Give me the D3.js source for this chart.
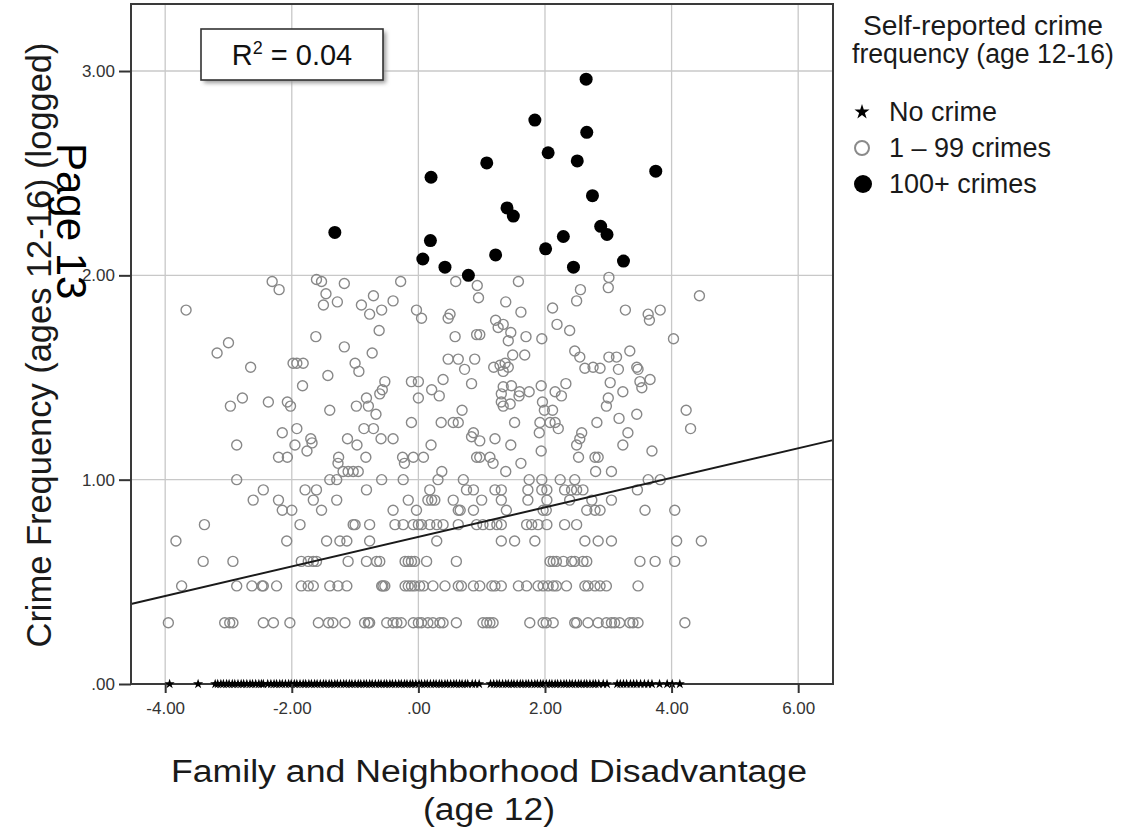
<!DOCTYPE html>
<html><head><meta charset="utf-8">
<script src="https://cdn.jsdelivr.net/npm/d3@7"></script>
<style>
body{margin:0;background:#fff}
svg{display:block}
text{font-family:"Liberation Sans",Arial,Helvetica,sans-serif}
</style>
</head><body>
<svg id="c" width="1128" height="829"></svg>
<script>
// ---------------- data ----------------
const xTicks = [-4, -2, 0, 2, 4, 6];
const yTicks = [0, 1, 2, 3];
const xTitle = ["Family and Neighborhood Disadvantage", "(age 12)"];
const yTitle = "Crime Frequency (ages 12-16) (logged)";
const legendTitle = ["Self-reported crime", "frequency (age 12-16)"];
const legendItems = ["No crime", "1 \u2013 99 crimes", "100+ crimes"];
const r2Text = "0.04";
const fitIntercept = 0.72;
const fitSlope = 0.0723;

// No crime (value 0)
const noCrimeX = [-3.93,-3.48,-3.21,-3.17,-3.12,-3.08,-3.03,-2.99,-2.94,-2.90,-2.85,-2.80,-2.76,-2.71,-2.66,-2.62,-2.57,-2.52,-2.48,-2.45,-2.38,-2.33,-2.28,-2.24,-2.19,-2.15,-2.10,-2.05,-2.01,-1.96,-1.92,-1.87,-1.82,-1.78,-1.73,-1.69,-1.64,-1.60,-1.55,-1.50,-1.46,-1.41,-1.37,-1.32,-1.28,-1.23,-1.18,-1.14,-1.09,-1.05,-1.00,-0.95,-0.91,-0.86,-0.82,-0.77,-0.73,-0.68,-0.63,-0.59,-0.54,-0.50,-0.45,-0.41,-0.36,-0.31,-0.27,-0.22,-0.18,-0.13,-0.09,-0.04,0.01,0.05,0.10,0.14,0.19,0.24,0.28,0.33,0.37,0.42,0.46,0.51,0.56,0.60,0.65,0.69,0.74,0.78,0.85,0.90,0.96,1.14,1.19,1.24,1.28,1.33,1.38,1.42,1.47,1.51,1.56,1.61,1.65,1.70,1.74,1.79,1.84,1.88,1.93,1.97,2.02,2.07,2.11,2.16,2.20,2.25,2.30,2.34,2.39,2.43,2.48,2.53,2.57,2.62,2.66,2.71,2.76,2.80,2.85,2.92,2.98,3.14,3.19,3.24,3.29,3.35,3.40,3.45,3.51,3.57,3.63,3.69,3.81,3.93,4.01,4.13];

// 1 - 99 crimes [x, y]
const someCrime = [
[-3.95,0.30],[-3.06,0.30],[-2.98,0.30],[-2.93,0.30],[-2.45,0.30],[-2.29,0.30],[-2.03,0.30],[-1.58,0.30],[-1.42,0.30],[-1.35,0.30],[-1.16,0.30],[-0.85,0.30],[-0.79,0.30],[-0.77,0.30],[-0.50,0.30],[-0.40,0.30],[-0.34,0.30],[-0.27,0.30],[-0.08,0.30],[0.00,0.30],[0.05,0.30],[0.15,0.30],[0.23,0.30],[0.34,0.30],[0.39,0.30],[0.60,0.30],
[1.02,0.30],[1.08,0.30],[1.13,0.30],[1.18,0.30],[1.76,0.30],[1.97,0.30],[2.02,0.30],[2.13,0.30],[2.47,0.30],[2.50,0.30],[2.68,0.30],[2.84,0.30],[2.97,0.30],[3.05,0.30],[3.10,0.30],[3.18,0.30],[3.34,0.30],[3.39,0.30],[3.47,0.30],[4.21,0.30],
[-3.74,0.48],[-2.87,0.48],[-2.63,0.48],[-2.47,0.48],[-2.45,0.48],[-2.24,0.48],[-1.85,0.48],[-1.74,0.48],[-1.66,0.48],[-1.40,0.48],[-1.27,0.48],[-1.13,0.48],[-0.58,0.48],[-0.56,0.48],[-0.53,0.48],[-0.21,0.48],[-0.16,0.48],[-0.11,0.48],[-0.06,0.48],[0.02,0.48],[0.08,0.48],[0.23,0.48],[0.42,0.48],[0.63,0.48],[0.68,0.48],[0.87,0.48],[0.97,0.48],
[1.16,0.48],[1.21,0.48],[1.31,0.48],[1.58,0.48],[1.71,0.48],[1.89,0.48],[1.97,0.48],[2.05,0.48],[2.13,0.48],[2.18,0.48],[2.34,0.48],[2.63,0.48],[2.68,0.48],[2.79,0.48],[2.87,0.48],[2.97,0.48],[3.47,0.48],
[-3.40,0.60],[-2.93,0.60],[-1.85,0.60],[-1.74,0.60],[-1.66,0.60],[-1.61,0.60],[-1.11,0.60],[-0.82,0.60],[-0.66,0.60],[-0.61,0.60],[-0.21,0.60],[-0.16,0.60],[-0.11,0.60],[-0.06,0.60],[0.13,0.60],[0.60,0.60],
[2.08,0.60],[2.13,0.60],[2.18,0.60],[2.29,0.60],[2.42,0.60],[2.47,0.60],[2.60,0.60],[2.66,0.60],[3.50,0.60],[3.74,0.60],[4.05,0.60],
[-3.83,0.70],[-2.08,0.70],[-1.45,0.70],[-1.24,0.70],[-1.13,0.70],[-0.77,0.70],[0.29,0.70],[1.31,0.70],[1.52,0.70],[1.84,0.70],[2.63,0.70],[2.84,0.70],[3.05,0.70],[4.08,0.70],[4.47,0.70],
[-3.38,0.78],[-1.87,0.78],[-1.03,0.78],[-1.00,0.78],[-0.77,0.78],[-0.37,0.78],[-0.24,0.78],[-0.08,0.78],[0.00,0.78],[0.05,0.78],[0.18,0.78],[0.29,0.78],[0.39,0.78],[0.63,0.78],[0.92,0.78],
[1.02,0.78],[1.13,0.78],[1.24,0.78],[1.31,0.78],[1.71,0.78],[1.79,0.78],[1.89,0.78],[2.03,0.78],[2.31,0.78],[2.50,0.78],
[-2.15,0.85],[-2.00,0.85],[-1.53,0.85],[-0.40,0.85],[-0.03,0.85],[0.63,0.85],[0.87,0.85],[0.66,0.85],[1.39,0.85],[1.97,0.85],[2.02,0.85],[2.66,0.85],[2.79,0.85],[2.87,0.85],[3.58,0.85],[4.05,0.85],
[-2.61,0.90],[-2.21,0.90],[-1.66,0.90],[-1.29,0.90],[-0.16,0.90],[0.15,0.90],[0.21,0.90],[0.26,0.90],[0.55,0.90],[1.00,0.90],[1.31,0.90],[1.73,0.90],[2.03,0.90],[2.39,0.90],[2.74,0.90],[3.05,0.90],
[-2.45,0.95],[-1.79,0.95],[-1.61,0.95],[-0.82,0.95],[0.18,0.95],[0.76,0.95],[0.87,0.95],[1.21,0.95],[1.31,0.95],[1.73,0.95],[1.95,0.95],[2.03,0.95],[2.31,0.95],[2.42,0.95],[2.50,0.95],[2.60,0.95],[3.46,0.95],
[-2.87,1.00],[-1.40,1.00],[-1.29,1.00],[-0.58,1.00],[-0.24,1.00],[0.31,1.00],[0.71,1.00],[1.75,1.00],[1.95,1.00],[2.24,1.00],[2.47,1.00],[3.63,1.00],[3.82,1.00],
[-1.19,1.04],[-1.11,1.04],[-1.03,1.04],[-0.95,1.04],[0.37,1.04],[1.38,1.04],[2.80,1.04],[3.05,1.04],
[-1.27,1.08],[-0.22,1.08],[1.18,1.08],[1.62,1.08],
[-2.21,1.11],[-2.07,1.11],[-1.26,1.11],[-0.83,1.11],[-0.25,1.11],[-0.08,1.11],[0.08,1.11],[0.92,1.11],[0.97,1.11],[1.13,1.11],[2.53,1.11],[2.79,1.11],[2.84,1.11],
[-1.76,1.14],[1.94,1.14],[3.69,1.14],
[-2.87,1.17],[-1.95,1.17],[-0.97,1.17],[0.20,1.17],[1.46,1.17],[2.50,1.17],[3.23,1.17],
[-1.70,1.20],[-1.68,1.18],[-1.12,1.20],[-0.59,1.20],[-0.40,1.20],[0.84,1.21],[0.97,1.19],[1.21,1.20],[2.55,1.20],
[-2.15,1.23],[0.87,1.23],[1.91,1.23],[2.58,1.23],[3.31,1.23],
[-1.92,1.25],[-0.86,1.25],[-0.71,1.25],[2.21,1.25],[4.30,1.25],
[-0.11,1.28],[0.36,1.28],[0.55,1.28],[0.63,1.28],[1.52,1.28],[1.92,1.28],[2.08,1.28],[2.16,1.28],[2.82,1.28],
[3.17,1.30],[3.45,1.32],[-0.67,1.32],
[-1.40,1.34],[0.69,1.34],[1.99,1.34],[2.12,1.34],[4.23,1.34],
[-2.97,1.36],[-2.02,1.36],[-0.98,1.36],[-0.79,1.36],[1.34,1.36],[2.97,1.36],[1.45,1.37],
[-2.37,1.38],[-2.07,1.38],[1.31,1.38],[1.96,1.38],
[-2.78,1.40],[-0.82,1.40],[0.00,1.40],[3.00,1.40],
[-0.61,1.42],[-0.57,1.44],[0.21,1.44],[0.33,1.41],[1.31,1.42],[1.59,1.41],[1.60,1.43],[1.75,1.43],[2.16,1.43],[2.26,1.41],[3.23,1.43],
[-1.83,1.46],[-0.53,1.48],[-0.11,1.48],[0.00,1.48],[0.39,1.49],[0.84,1.47],[1.34,1.455],[1.47,1.46],[1.94,1.46],[2.33,1.47],[3.03,1.475],[3.50,1.48],[3.53,1.45],[3.66,1.49],
[-2.65,1.55],[-1.98,1.57],[-1.92,1.57],[-1.82,1.57],[-1.43,1.51],[-1.00,1.57],[-0.94,1.53],[0.73,1.54],[1.19,1.55],[1.29,1.56],[1.34,1.53],[1.37,1.57],[1.42,1.55],[2.63,1.545],[2.76,1.55],[2.87,1.545],[3.16,1.54],[3.45,1.55],[3.47,1.54],
[-3.18,1.62],[-0.73,1.62],[0.47,1.59],[0.63,1.59],[0.89,1.59],[1.49,1.61],[1.68,1.61],[2.47,1.63],[2.55,1.60],[3.01,1.60],[3.13,1.60],[3.34,1.63],
[-3.00,1.67],[-1.62,1.70],[-1.17,1.65],[0.58,1.70],[1.42,1.68],[1.70,1.70],[1.95,1.69],[4.03,1.69],
[-0.62,1.73],[0.92,1.71],[0.97,1.71],[1.26,1.745],[1.34,1.76],[1.46,1.72],[2.19,1.76],[2.39,1.73],
[-3.67,1.83],[-0.77,1.81],[-0.58,1.83],[-0.03,1.83],[0.05,1.79],[0.47,1.79],[0.50,1.81],[1.22,1.78],[1.62,1.82],[2.12,1.84],[3.27,1.83],[3.63,1.81],[3.65,1.78],[3.82,1.83],
[-1.50,1.855],[-1.28,1.87],[-0.90,1.855],[-0.71,1.90],[-0.40,1.875],[0.95,1.89],[1.38,1.87],[2.50,1.875],[4.44,1.90],
[-2.31,1.97],[-2.20,1.93],[-1.61,1.98],[-1.53,1.97],[-1.46,1.91],[-1.17,1.96],[-0.28,1.97],[0.59,1.97],[0.93,1.95],[1.58,1.97],[2.56,1.93],[3.00,1.94],[3.01,1.99]
];

// 100+ crimes [x, y]
const manyCrime = [
[-1.32,2.21],[2.65,2.96],[1.84,2.76],[2.66,2.70],[2.05,2.60],[2.51,2.56],[1.08,2.55],[0.20,2.48],[3.75,2.51],[2.75,2.39],[1.40,2.33],[1.50,2.29],[2.88,2.24],[2.98,2.20],[2.29,2.19],[0.19,2.17],[2.01,2.13],[1.22,2.10],[0.07,2.08],[3.24,2.07],[2.45,2.04],[0.42,2.04],[0.79,2.00]
];

// ---------------- drawing ----------------
const svg = d3.select("#c");
const x = d3.scaleLinear().domain([-4.54, 6.55]).range([131, 833]);
const y = d3.scaleLinear().domain([0, 3.328]).range([684, 4]);
const fmt = v => { const s = v.toFixed(2); return s.replace(/^0\./, "."); };

// grid
const grid = svg.append("g");
grid.selectAll("line.vx").data(xTicks).join("line")
  .attr("x1", d => x(d)).attr("x2", d => x(d)).attr("y1", y.range()[1]).attr("y2", y.range()[0])
  .attr("stroke", "#c8c8c8").attr("stroke-width", 1.3);
grid.selectAll("line.hy").data(yTicks).join("line")
  .attr("y1", d => y(d)).attr("y2", d => y(d)).attr("x1", x.range()[0]).attr("x2", x.range()[1])
  .attr("stroke", "#c8c8c8").attr("stroke-width", 1.3);

// hollow circles
svg.append("g").selectAll("circle").data(someCrime).join("circle")
  .attr("cx", d => x(d[0])).attr("cy", d => y(d[1])).attr("r", 5)
  .attr("fill", "none").attr("stroke", "#888").attr("stroke-width", 1.4);

// fit line
const xd = x.domain();
svg.append("line")
  .attr("x1", x(xd[0])).attr("y1", y(fitIntercept + fitSlope * xd[0]))
  .attr("x2", x(xd[1])).attr("y2", y(fitIntercept + fitSlope * xd[1]))
  .attr("stroke", "#1a1a1a").attr("stroke-width", 2);

// filled circles
svg.append("g").selectAll("circle").data(manyCrime).join("circle")
  .attr("cx", d => x(d[0])).attr("cy", d => y(d[1])).attr("r", 6.5)
  .attr("fill", "#000");

// frame
svg.append("rect").attr("x", x.range()[0]).attr("y", y.range()[1])
  .attr("width", x.range()[1] - x.range()[0]).attr("height", y.range()[0] - y.range()[1])
  .attr("fill", "none").attr("stroke", "#3a3a3a").attr("stroke-width", 2);

// stars (no crime)
const star = d3.symbol().type(d3.symbolStar).size(32);
svg.append("g").selectAll("path").data(noCrimeX).join("path")
  .attr("d", star).attr("transform", d => `translate(${x(d)},${y(0)})`).attr("fill", "#000");

// axes
const ax = svg.append("g").attr("transform", `translate(0,${y.range()[0]})`)
  .call(d3.axisBottom(x).tickValues(xTicks).tickFormat(fmt).tickSize(9).tickPadding(9));
const ay = svg.append("g").attr("transform", `translate(${x.range()[0]},0)`)
  .call(d3.axisLeft(y).tickValues(yTicks).tickFormat(fmt).tickSize(12).tickPadding(4));
[ax, ay].forEach(g => {
  g.select(".domain").remove();
  g.selectAll(".tick line").attr("stroke", "#333").attr("stroke-width", 2);
  g.selectAll(".tick text").attr("fill", "#333").style("font-size", "17px")
   .style("font-family", '"Liberation Sans",Arial,sans-serif');
});

// R² box
const bx = 201, by = 29, bw = 182, bh = 51;
const defs = svg.append("defs");
const f = defs.append("filter").attr("id", "sh").attr("x", "-10%").attr("y", "-10%").attr("width", "130%").attr("height", "140%");
f.append("feGaussianBlur").attr("stdDeviation", 2);
svg.append("rect").attr("x", bx + 3).attr("y", by + 3).attr("width", bw).attr("height", bh)
  .attr("fill", "#9a9a9a").attr("filter", "url(#sh)");
svg.append("rect").attr("x", bx).attr("y", by).attr("width", bw).attr("height", bh)
  .attr("fill", "#fff").attr("stroke", "#333").attr("stroke-width", 1.6);
const rt = svg.append("text").attr("x", bx + bw / 2).attr("y", 65).attr("text-anchor", "middle")
  .style("font-size", "29px").attr("fill", "#111");
rt.append("tspan").text("R");
rt.append("tspan").text("2").style("font-size", "18px").attr("dy", -11);
rt.append("tspan").text(" = " + r2Text).attr("dy", 11);

// axis titles
svg.append("text").attr("x", 489).attr("y", 782).attr("text-anchor", "middle")
  .attr("textLength", 636).attr("lengthAdjust", "spacingAndGlyphs")
  .style("font-size", "31px").attr("fill", "#1a1a1a").text(xTitle[0]);
svg.append("text").attr("x", 489).attr("y", 820).attr("text-anchor", "middle")
  .attr("textLength", 132).attr("lengthAdjust", "spacingAndGlyphs")
  .style("font-size", "31px").attr("fill", "#1a1a1a").text(xTitle[1]);
svg.append("text").attr("transform", "translate(51,345) rotate(-90)").attr("text-anchor", "middle")
  .attr("textLength", 605).attr("lengthAdjust", "spacingAndGlyphs")
  .style("font-size", "35px").attr("fill", "#1a1a1a").text(yTitle);

// legend
const lg = svg.append("g");
const ltLen = [240, 262];
lg.selectAll("text.t").data(legendTitle).join("text")
  .attr("x", 983).attr("y", (d, i) => 35 + i * 28).attr("text-anchor", "middle")
  .attr("textLength", (d, i) => ltLen[i]).attr("lengthAdjust", "spacingAndGlyphs")
  .style("font-size", "27px").attr("fill", "#1a1a1a").text(d => d);
const ly = [112, 148, 184];
lg.append("path").attr("d", d3.symbol().type(d3.symbolStar).size(70))
  .attr("transform", `translate(862,${ly[0]})`).attr("fill", "#000");
lg.append("circle").attr("cx", 862).attr("cy", ly[1]).attr("r", 7)
  .attr("fill", "none").attr("stroke", "#8a8a8a").attr("stroke-width", 2);
lg.append("circle").attr("cx", 863).attr("cy", ly[2]).attr("r", 9).attr("fill", "#000");
lg.selectAll("text.i").data(legendItems).join("text")
  .attr("x", 889).attr("y", (d, i) => ly[i] + 9)
  .style("font-size", "27px").attr("fill", "#1a1a1a").text(d => d);

// page stamp overlay
svg.append("text").attr("transform", "translate(57,143) rotate(90)")
  .style("font-size", "42px").attr("fill", "#000").text("Page 13");
</script>
</body></html>
